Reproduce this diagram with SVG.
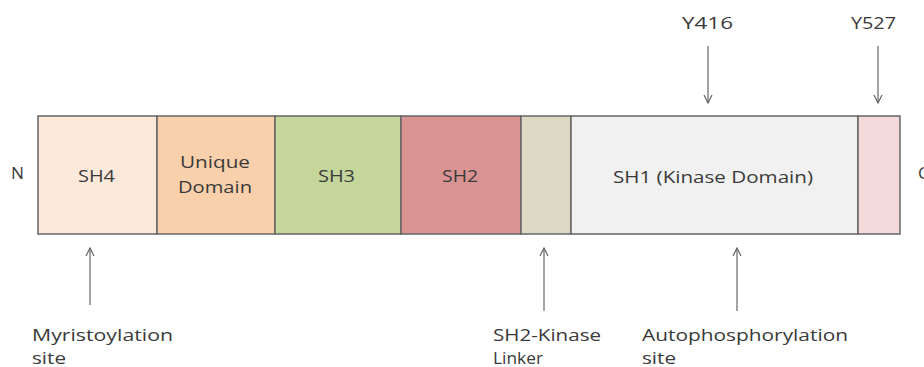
<svg xmlns="http://www.w3.org/2000/svg" width="924" height="367" viewBox="0 0 924 367">
<defs>
<style>
.dom{stroke:#666;stroke-width:1.5}
.t{font-family:"Open Sans","Liberation Sans",sans-serif;font-size:17px;fill:#3a3a3a}
.arr{stroke:#666;stroke-width:1.2;fill:none}
</style>
<marker id="ah" viewBox="0 0 10 10" refX="9" refY="5" markerWidth="10" markerHeight="10" markerUnits="userSpaceOnUse" orient="auto">
<path d="M1,1 L9,5 L1,9" fill="none" stroke="#666" stroke-width="1.2"/>
</marker>
</defs>
<rect width="924" height="367" fill="#fff"/>
<text class="t" x="11" y="179" textLength="13" lengthAdjust="spacingAndGlyphs">N</text>
<text class="t" x="918" y="179">C</text>
<g id="sh4"><rect class="dom" x="38" y="116" width="119" height="118" fill="#fde9da"/><text class="t" x="78" y="182" textLength="37" lengthAdjust="spacingAndGlyphs">SH4</text></g>
<g id="unique"><rect class="dom" x="157" y="116" width="118" height="118" fill="#f9d0ac"/><text class="t" x="180" y="168" textLength="70" lengthAdjust="spacingAndGlyphs">Unique</text><text class="t" x="178" y="193" textLength="74" lengthAdjust="spacingAndGlyphs">Domain</text></g>
<g id="sh3"><rect class="dom" x="275" y="116" width="126" height="118" fill="#c5d69b"/><text class="t" x="318" y="182" textLength="37" lengthAdjust="spacingAndGlyphs">SH3</text></g>
<g id="sh2"><rect class="dom" x="401" y="116" width="120" height="118" fill="#d99392"/><text class="t" x="442" y="182" textLength="36" lengthAdjust="spacingAndGlyphs">SH2</text></g>
<g id="linker"><rect class="dom" x="521" y="116" width="50" height="118" fill="#ddd8c3"/></g>
<g id="sh1"><rect class="dom" x="571" y="116" width="287" height="118" fill="#f1f1f1"/><text class="t" x="613" y="183" textLength="200" lengthAdjust="spacingAndGlyphs">SH1 (Kinase Domain)</text></g>
<g id="ctail"><rect class="dom" x="858" y="116" width="42" height="118" fill="#f2dada"/></g>
<g id="connectors">
<line class="arr" x1="708" y1="46" x2="708" y2="103" marker-end="url(#ah)"/>
<line class="arr" x1="878" y1="46" x2="878" y2="103" marker-end="url(#ah)"/>
<line class="arr" x1="90" y1="305" x2="90" y2="248" marker-end="url(#ah)"/>
<line class="arr" x1="544" y1="311" x2="544" y2="248" marker-end="url(#ah)"/>
<line class="arr" x1="737" y1="311" x2="737" y2="248" marker-end="url(#ah)"/>
</g>
<text class="t" x="682" y="29" textLength="51" lengthAdjust="spacingAndGlyphs">Y416</text>
<text class="t" x="851" y="29" textLength="45" lengthAdjust="spacingAndGlyphs">Y527</text>
<text class="t" x="32" y="341" textLength="141" lengthAdjust="spacingAndGlyphs">Myristoylation</text>
<text class="t" x="32" y="364" textLength="34" lengthAdjust="spacingAndGlyphs">site</text>
<text class="t" x="493" y="341" textLength="108" lengthAdjust="spacingAndGlyphs">SH2-Kinase</text>
<text class="t" x="493" y="364" textLength="50" lengthAdjust="spacingAndGlyphs">Linker</text>
<text class="t" x="642" y="341" textLength="206" lengthAdjust="spacingAndGlyphs">Autophosphorylation</text>
<text class="t" x="642" y="364" textLength="34" lengthAdjust="spacingAndGlyphs">site</text>
</svg>
